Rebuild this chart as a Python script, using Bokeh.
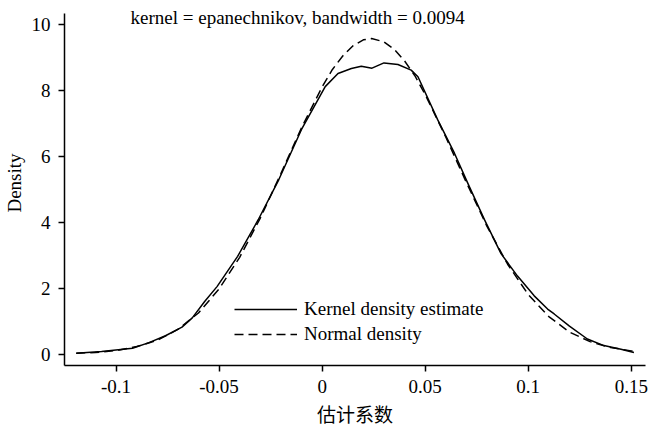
from bokeh.plotting import figure
from bokeh.models import Range1d, FixedTicker, Label, Legend, LegendItem
from bokeh.embed import file_html
from bokeh.resources import INLINE

# ---- data ----
kde_x = [-0.1193, -0.107, -0.092, -0.084, -0.076, -0.068, -0.063, -0.057, -0.051,
         -0.041, -0.031, -0.021, -0.010, 0.0015, 0.0077, 0.0142, 0.019, 0.0242,
         0.030, 0.0368, 0.0432, 0.0465, 0.0561, 0.0642, 0.0706, 0.0787, 0.0868,
         0.0948, 0.1029, 0.1094, 0.1126, 0.120, 0.1287, 0.1367, 0.145, 0.1513]
kde_y = [0.03, 0.08, 0.18, 0.35, 0.56, 0.82, 1.10, 1.60, 2.05,
         2.97, 4.08, 5.30, 6.82, 8.12, 8.52, 8.67, 8.74, 8.68,
         8.84, 8.79, 8.62, 8.42, 7.11, 6.10, 5.20, 4.09, 3.05,
         2.37, 1.77, 1.37, 1.22, 0.85, 0.46, 0.26, 0.15, 0.05]

norm_x = [-0.1193, -0.11, -0.10, -0.09, -0.08, -0.07, -0.06, -0.05, -0.04, -0.03,
          -0.02, -0.01, 0.0, 0.005, 0.01, 0.015, 0.02, 0.024, 0.03, 0.035, 0.04,
          0.045, 0.05, 0.06, 0.07, 0.08, 0.09, 0.10, 0.11, 0.12, 0.13, 0.14,
          0.15, 0.1513]
norm_y = [0.03, 0.05, 0.11, 0.23, 0.42, 0.75, 1.25, 1.98, 2.94, 4.13,
          5.48, 6.87, 8.11, 8.64, 9.05, 9.36, 9.54, 9.58, 9.48, 9.25, 8.90,
          8.45, 7.88, 6.59, 5.21, 3.88, 2.73, 1.81, 1.14, 0.67, 0.38, 0.20,
          0.10, 0.09]

x_ticks = [-0.1, -0.05, 0, 0.05, 0.1, 0.15]
x_tick_labels = ["-0.1", "-0.05", "0", "0.05", "0.1", "0.15"]
y_ticks = [0, 2, 4, 6, 8, 10]
y_tick_labels = ["0", "2", "4", "6", "8", "10"]

title_text = "kernel = epanechnikov, bandwidth = 0.0094"
x_label = "估计系数"
y_label = "Density"
legend_labels = ["Kernel density estimate", "Normal density"]

SERIF = "Liberation Serif"
CJK = "Noto Sans CJK SC"
FS = "19px"

p = figure(width=648, height=429, output_backend="svg", toolbar_location=None,
           x_range=Range1d(-0.1250, 0.1569), y_range=Range1d(-0.344, 10.734),
           min_border_left=62, min_border_right=3, min_border_top=0,
           min_border_bottom=62)
p.outline_line_color = None
p.xgrid.visible = False
p.ygrid.visible = False
p.background_fill_color = "white"
p.border_fill_color = "white"

r_kde = p.line(kde_x, kde_y, line_color="black", line_width=1.5)
r_norm = p.line(norm_x, norm_y, line_color="black", line_width=1.5, line_dash="9 5")

for ax in (p.xaxis[0], p.yaxis[0]):
    ax.axis_line_color = "black"
    ax.axis_line_width = 1.5
    ax.major_tick_line_color = "black"
    ax.major_tick_line_width = 1.5
    ax.major_tick_out = 6
    ax.major_tick_in = 0
    ax.minor_tick_line_color = None
    ax.major_label_text_font = SERIF
    ax.major_label_text_font_size = FS
    ax.major_label_text_color = "black"
    ax.axis_label_text_font_style = "normal"
    ax.axis_label_text_color = "black"

p.xaxis.ticker = FixedTicker(ticks=x_ticks)
p.xaxis.major_label_overrides = dict(zip(x_ticks, x_tick_labels))
p.xaxis.major_label_standoff = 8
p.xaxis.axis_label = x_label
p.xaxis.axis_label_text_font = CJK
p.xaxis.axis_label_text_font_size = FS
p.xaxis.axis_label_standoff = 4

p.yaxis.ticker = FixedTicker(ticks=y_ticks)
p.yaxis.major_label_overrides = dict(zip(y_ticks, y_tick_labels))
p.yaxis.major_label_standoff = 8
p.yaxis.axis_label = y_label
p.yaxis.axis_label_text_font = SERIF
p.yaxis.axis_label_text_font_size = FS
p.yaxis.axis_label_standoff = 4
p.yaxis.bounds = (-0.344, 10.34)

title = Label(x=-0.0119, y=10.22, text=title_text, text_font=SERIF,
              text_font_size=FS, text_align="center", text_baseline="middle",
              text_color="black")
p.add_layout(title)

legend = Legend(items=[LegendItem(label=legend_labels[0], renderers=[r_kde]),
                       LegendItem(label=legend_labels[1], renderers=[r_norm])],
                location=(170, 20), orientation="vertical")
legend.border_line_color = None
legend.background_fill_alpha = 0
legend.padding = 0
legend.margin = 0
legend.spacing = 3
legend.glyph_width = 63
legend.glyph_height = 20
legend.label_height = 20
legend.label_standoff = 7
legend.label_text_font = SERIF
legend.label_text_font_size = FS
legend.label_text_color = "black"
p.add_layout(legend)

open("out.html", "w").write(file_html(p, INLINE))
